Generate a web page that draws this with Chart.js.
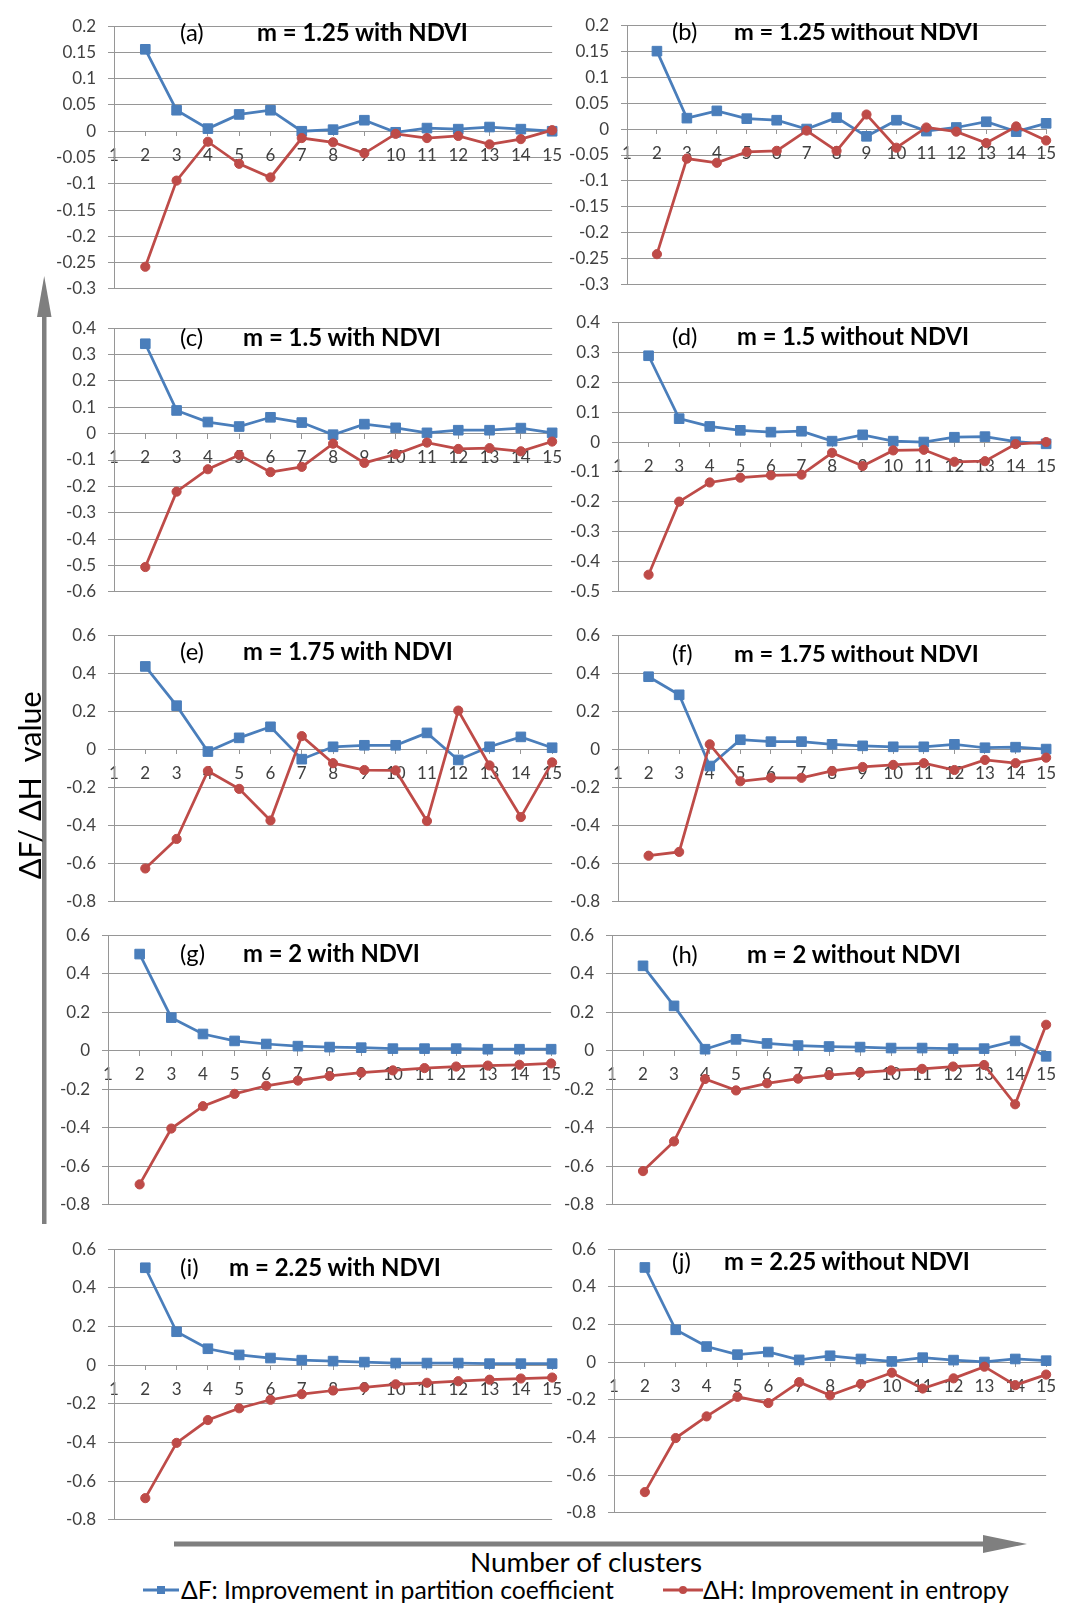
<!DOCTYPE html>
<html><head><meta charset="utf-8">
<script src="https://cdn.jsdelivr.net/npm/chart.js@4.4.0/dist/chart.umd.min.js"></script>
<style>
html,body{margin:0;padding:0;background:#fff;}
body{width:1070px;height:1606px;position:relative;overflow:hidden;font-family:Lato,sans-serif;}
canvas{position:absolute;}
.t{position:absolute;white-space:pre;line-height:1;color:#000;font-family:Lato,sans-serif;}
svg{position:absolute;left:0;top:0;}
</style></head><body>
<svg width="1070" height="1606">
  <rect x="42" y="314" width="4.5" height="910" fill="#7f7f7f"/>
  <polygon points="44.2,276 37,317 51.5,317" fill="#7f7f7f"/>
  <rect x="174" y="1541.5" width="810" height="5" fill="#7f7f7f"/>
  <polygon points="983,1535 1027,1544 983,1553" fill="#7f7f7f"/>
  <line x1="143" y1="1590" x2="179" y2="1590" stroke="#4a7ebb" stroke-width="3"/>
  <rect x="157" y="1586" width="8" height="8" fill="#4a7ebb"/>
  <line x1="663" y1="1590" x2="703" y2="1590" stroke="#be4b48" stroke-width="3"/>
  <circle cx="683" cy="1590" r="4" fill="#be4b48"/>
</svg>
<script>
// ---- data ----
const clusters = ['1','2','3','4','5','6','7','8','9','10','11','12','13','14','15'];
const legendF = 'ΔF: Improvement in partition coefficient';
const legendH = 'ΔH: Improvement in entropy';
const panelTags = ['(a)','(b)','(c)','(d)','(e)','(f)','(g)','(h)','(i)','(j)'];
const panelTitles = ['m = 1.25 with NDVI','m = 1.25 without NDVI','m = 1.5 with NDVI','m = 1.5 without NDVI',
  'm = 1.75 with NDVI','m = 1.75 without NDVI','m = 2 with NDVI','m = 2 without NDVI',
  'm = 2.25 with NDVI','m = 2.25 without NDVI'];
const yMax  = [0.2, 0.2, 0.4, 0.4, 0.6, 0.6, 0.6, 0.6, 0.6, 0.6];
const yMin  = [-0.3, -0.3, -0.6, -0.5, -0.8, -0.8, -0.8, -0.8, -0.8, -0.8];
const yStep = [0.05, 0.05, 0.1, 0.1, 0.2, 0.2, 0.2, 0.2, 0.2, 0.2];

const aF = [null,0.156,0.040,0.005,0.032,0.040,0.000,0.003,0.021,-0.002,0.006,0.004,0.008,0.004,0.000];
const aH = [null,-0.258,-0.094,-0.020,-0.062,-0.088,-0.013,-0.021,-0.042,-0.005,-0.013,-0.009,-0.025,-0.015,0.002];
const bF = [null,0.150,0.021,0.035,0.020,0.017,0.000,0.022,-0.014,0.017,-0.004,0.003,0.014,-0.005,0.011];
const bH = [null,-0.241,-0.057,-0.065,-0.044,-0.042,-0.003,-0.042,0.028,-0.036,0.003,-0.005,-0.027,0.005,-0.022];
const cF = [null,0.341,0.088,0.044,0.027,0.062,0.042,-0.004,0.036,0.022,0.003,0.013,0.013,0.021,0.003];
const cH = [null,-0.506,-0.220,-0.135,-0.081,-0.146,-0.126,-0.038,-0.111,-0.078,-0.034,-0.058,-0.055,-0.067,-0.030];
const dF = [null,0.288,0.078,0.052,0.039,0.033,0.036,0.003,0.024,0.003,0.000,0.016,0.018,0.001,-0.006];
const dH = [null,-0.443,-0.199,-0.135,-0.119,-0.111,-0.109,-0.036,-0.080,-0.028,-0.026,-0.066,-0.064,-0.007,0.000];
const eF = [null,0.436,0.230,-0.011,0.061,0.119,-0.051,0.014,0.022,0.022,0.087,-0.055,0.014,0.066,0.009];
const eH = [null,-0.625,-0.470,-0.113,-0.207,-0.373,0.070,-0.072,-0.108,-0.110,-0.376,0.204,-0.084,-0.355,-0.068];
const fF = [null,0.382,0.287,-0.087,0.051,0.041,0.041,0.027,0.019,0.014,0.014,0.027,0.009,0.012,0.002];
const fH = [null,-0.558,-0.538,0.027,-0.167,-0.149,-0.149,-0.113,-0.092,-0.081,-0.072,-0.108,-0.055,-0.072,-0.043];
const gF = [null,0.502,0.172,0.087,0.051,0.035,0.024,0.019,0.016,0.011,0.011,0.011,0.008,0.008,0.008];
const gH = [null,-0.694,-0.404,-0.288,-0.224,-0.182,-0.155,-0.131,-0.114,-0.102,-0.090,-0.082,-0.077,-0.073,-0.066];
const hF = [null,0.441,0.233,0.008,0.059,0.038,0.027,0.022,0.019,0.014,0.014,0.011,0.011,0.051,-0.029];
const hH = [null,-0.625,-0.471,-0.147,-0.206,-0.169,-0.145,-0.126,-0.114,-0.102,-0.094,-0.082,-0.074,-0.278,0.135];
const iF = [null,0.504,0.173,0.085,0.053,0.037,0.026,0.021,0.016,0.011,0.011,0.011,0.008,0.008,0.008];
const iH = [null,-0.688,-0.402,-0.284,-0.223,-0.179,-0.150,-0.131,-0.115,-0.099,-0.091,-0.083,-0.075,-0.069,-0.064];
const jF = [null,0.503,0.172,0.083,0.040,0.054,0.012,0.034,0.017,0.004,0.024,0.011,0.001,0.017,0.008];
const jH = [null,-0.690,-0.403,-0.288,-0.184,-0.217,-0.106,-0.176,-0.116,-0.056,-0.140,-0.086,-0.024,-0.122,-0.066];

const seriesF = [aF,bF,cF,dF,eF,fF,gF,hF,iF,jF];
const seriesH = [aH,bH,cH,dH,eH,fH,gH,hH,iH,jH];

// ---- layout (plot area: left, top, right, bottom) ----
const plotRects = [
  [114,16,555,299],[627,15,1049,295],
  [114,318,555,602],[618,312,1049,602],
  [114,625,555,912],[618,625,1049,912],
  [108,925,554,1215],[612,925,1049,1215],
  [114,1239,555,1530],[614,1239,1049,1523]
];
// tag x, title x, title width, title center y
const titlePos = [
  [180,257,211,33],[672,734,245,33],
  [180,243,198,338],[672,737,232,338],
  [180,243,210,653],[672,734,245,655],
  [180,243,177,955],[672,747,214,955],
  [180,229,212,1268],[672,724,246,1263]
];

const BLUE = '#4a7ebb', RED = '#be4b48', GRID = '#969696', TXT = '#404040';
Chart.defaults.font.family = 'Lato';

function addText(str, x, cy, w, weight, opts) {
  opts = opts || {};
  const el = document.createElement('div');
  el.className = 't';
  el.textContent = str;
  el.style.fontWeight = weight;
  el.style.fontSize = '20px';
  document.body.appendChild(el);
  let fs = opts.size || 20;
  if (w) {
    const w0 = el.getBoundingClientRect().width;
    fs = 20 * w / w0;
  }
  el.style.fontSize = fs + 'px';
  const ww = el.getBoundingClientRect().width;
  if (opts.rotate) {
    el.style.left = (x - ww / 2) + 'px';
    el.style.top = (cy - fs / 2) + 'px';
    el.style.transform = 'rotate(-90deg)';
    el.style.transformOrigin = '50% 50%';
  } else {
    el.style.left = x + 'px';
    el.style.top = (cy - 0.53 * fs) + 'px';
  }
  return fs;
}

function makeChart(i) {
  const [L, T, R, B] = plotRects[i];
  const YW = 60, PT = 12, PR = 16, PB = 12;
  const cv = document.createElement('canvas');
  const w = R - L + YW + PR, h = B - T + PT + PB;
  cv.width = w; cv.height = h;
  cv.style.left = (L - YW) + 'px';
  cv.style.top = (T - PT) + 'px';
  cv.style.width = w + 'px';
  cv.style.height = h + 'px';
  document.body.appendChild(cv);
  new Chart(cv, {
    type: 'line',
    data: {
      labels: clusters,
      datasets: [
        { label: legendF, data: seriesF[i], borderColor: BLUE, backgroundColor: BLUE,
          pointStyle: 'rect', pointRadius: 6.8, pointBorderWidth: 1, borderWidth: 2.75,
          order: 2, clip: false, tension: 0 },
        { label: legendH, data: seriesH[i], borderColor: RED, backgroundColor: RED,
          pointStyle: 'circle', pointRadius: 4.6, pointBorderWidth: 1, borderWidth: 2.75,
          order: 1, clip: false, tension: 0 }
      ]
    },
    options: {
      responsive: false, animation: false, devicePixelRatio: 1, events: [],
      layout: { padding: { left: 0, top: PT, right: PR, bottom: PB } },
      plugins: { legend: { display: false }, tooltip: { enabled: false } },
      scales: {
        x: {
          type: 'category', axis: 'x', offset: false, position: { y: 0 },
          afterFit: s => { s.height = 0; },
          grid: { drawOnChartArea: false, drawTicks: true, tickLength: 5, color: GRID, offset: false },
          border: { display: false },
          ticks: { autoSkip: false, maxRotation: 0, minRotation: 0, padding: 9, color: TXT,
                   font: { family: 'Lato', size: 17 } }
        },
        y: {
          min: yMin[i], max: yMax[i], position: 'left',
          afterFit: s => { s.width = YW; },
          ticks: { stepSize: yStep[i], maxTicksLimit: 30, padding: 12, color: TXT,
                   font: { family: 'Lato', size: 17 },
                   callback: v => String(Number(Number(v).toFixed(2))) },
          grid: { color: GRID, tickLength: 6, lineWidth: 1 },
          border: { color: GRID, width: 1 }
        }
      }
    }
  });
}

for (let i = 0; i < 10; i++) {
  makeChart(i);
  const [tx, mx, mw, cy] = titlePos[i];
  const fs = addText(panelTitles[i], mx, cy, mw, 700);
  addText(panelTags[i], tx, cy, 0, 400, { size: fs });
}

addText('ΔF/ ΔH  value', 30, 785, 188, 400, { rotate: true });
addText('Number of clusters', 470, 1563, 232, 400);
addText(legendF, 181, 1591, 433, 400);
addText(legendH, 703, 1591, 306, 400);
</script>
</body></html>
